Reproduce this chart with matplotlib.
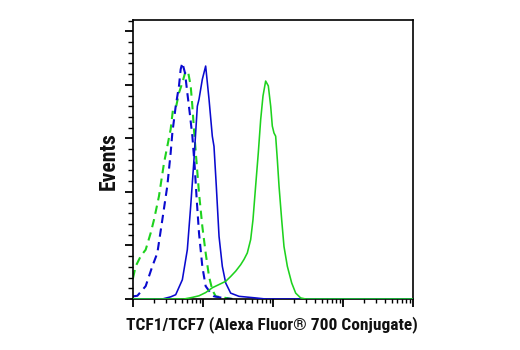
import numpy as np
import matplotlib
matplotlib.use("Agg")
import matplotlib.pyplot as plt
from matplotlib import font_manager as fm
from matplotlib.ticker import LogLocator, NullFormatter, MultipleLocator

# log10 fluorescence (decades above axis minimum) and event counts (arbitrary units)
blue_solid_x = [0.00, 0.419, 0.538, 0.610, 0.705, 0.776, 0.824, 0.871, 0.919, 0.943, 0.990, 1.038,
                1.086, 1.133, 1.157, 1.190, 1.229, 1.276, 1.324, 1.395, 1.514, 1.752, 1.895, 4.0]
blue_solid_y = [0.0, 0.0, 0.04, 0.08, 0.36, 0.92, 1.73, 2.60, 3.60, 3.73, 4.10, 4.35,
                3.73, 3.04, 2.85, 2.11, 1.17, 0.61, 0.30, 0.11, 0.05, 0.02, 0.0, 0.0]

blue_dash_x = [0.0, 0.062, 0.181, 0.276, 0.348, 0.419, 0.490, 0.538, 0.562, 0.610, 0.657, 0.681,
               0.705, 0.743, 0.776, 0.810, 0.848, 0.881, 0.910, 0.943, 0.990, 1.038, 1.110,
               1.157, 1.324, 1.419]
blue_dash_y = [0.05, 0.06, 0.24, 0.61, 0.86, 1.48, 2.11, 2.73, 3.10, 3.60, 3.98, 4.29,
               4.41, 4.22, 3.85, 3.48, 3.04, 2.48, 1.86, 1.23, 0.61, 0.24, 0.11,
               0.05, 0.01, 0.0]

green_dash_x = [0.0, 0.038, 0.110, 0.181, 0.252, 0.300, 0.371, 0.443, 0.490, 0.538, 0.571, 0.619,
                0.657, 0.705, 0.752, 0.790, 0.824, 0.848, 0.871, 0.905, 0.943, 0.990, 1.038,
                1.086, 1.133, 1.181, 1.324, 1.419]
green_dash_y = [0.39, 0.61, 0.80, 0.92, 1.23, 1.48, 1.92, 2.54, 2.85, 3.17, 3.54, 3.61,
                3.85, 4.04, 4.26, 4.22, 3.98, 3.60, 3.17, 2.60, 1.98, 1.36, 0.86,
                0.42, 0.17, 0.05, 0.02, 0.0]

green_solid_x = [0.0, 0.729, 0.848, 0.943, 1.038, 1.133, 1.229, 1.324, 1.395, 1.467, 1.538, 1.586,
                 1.633, 1.681, 1.714, 1.752, 1.790, 1.824, 1.857, 1.895, 1.933, 1.967, 1.990,
                 2.014, 2.038, 2.062, 2.086, 2.124, 2.157, 2.205, 2.267, 2.324, 2.395, 2.467, 4.0]
green_solid_y = [0.0, 0.0, 0.03, 0.06, 0.12, 0.21, 0.27, 0.33, 0.42, 0.52, 0.64, 0.74,
                 0.86, 1.11, 1.48, 2.11, 2.73, 3.35, 3.79, 4.07, 3.98, 3.60, 3.23,
                 3.10, 3.04, 2.60, 2.11, 1.48, 0.98, 0.61, 0.30, 0.11, 0.02, 0.0, 0.0]

xlabel = "TCF1/TCF7 (Alexa Fluor\u00ae 700 Conjugate)"
ylabel = "Events"

BLUE = "#0a0acf"
GREEN = "#1ed21e"

# pick a condensed sans if one is installed, else a narrow-ish regular sans
names = {f.name for f in fm.fontManager.ttflist}
cond = [f for f in fm.fontManager.ttflist
        if f.stretch in ("condensed", "semi-condensed", "extra-condensed") and f.weight in ("bold", 700)]
fam, stretch = None, "normal"
for cand in ["Liberation Sans Narrow", "Roboto Condensed", "Open Sans Condensed", "Noto Sans Condensed"]:
    if cand in names:
        fam = [cand, "DejaVu Sans"]
        break
if fam is None and cond:
    fam, stretch = [cond[0].name, "DejaVu Sans"], "condensed"
if fam is None:
    fam = ["Liberation Sans", "DejaVu Sans"]

fig = plt.figure(figsize=(5.2, 3.5), dpi=100)
ax = fig.add_axes([133/520, 1-299/350, 280/520, 279/350])

ax.plot(np.power(10.0, blue_solid_x), blue_solid_y, color=BLUE, lw=1.15, zorder=3)
ax.plot(np.power(10.0, green_solid_x), green_solid_y, color=GREEN, lw=1.15, zorder=4)
ax.plot(np.power(10.0, green_dash_x), green_dash_y, color=GREEN, lw=1.5,
        dashes=(4.0, 2.6), zorder=2)
ax.plot(np.power(10.0, blue_dash_x), blue_dash_y, color=BLUE, lw=1.5,
        dashes=(4.0, 2.6), zorder=2)

ax.set_xscale("log")
ax.set_xlim(1, 1e4)
ax.set_ylim(0, 5.21)

ax.xaxis.set_major_locator(LogLocator(base=10, numticks=10))
ax.xaxis.set_minor_locator(LogLocator(base=10, subs=np.arange(2, 10), numticks=20))
ax.xaxis.set_major_formatter(NullFormatter())
ax.xaxis.set_minor_formatter(NullFormatter())
ax.yaxis.set_major_locator(MultipleLocator(1))
ax.yaxis.set_minor_locator(MultipleLocator(0.2))
ax.yaxis.set_major_formatter(NullFormatter())

ax.tick_params(which="major", direction="out", length=6, width=1.3, color="black")
ax.tick_params(which="minor", direction="out", length=3.5, width=1.0, color="black")
ax.tick_params(axis="x", which="major", length=5.5)
ax.tick_params(axis="x", which="minor", length=3)
for s in ax.spines.values():
    s.set_linewidth(1.2)

xl = fig.text(272/520, 1-325/350, xlabel, family=fam, fontstretch=stretch, fontweight="bold",
              fontsize=11, ha="center", va="center", color="#111111")
yl = fig.text(109/520, 1-161/350, ylabel, family=fam, fontstretch=stretch, fontweight="bold",
              fontsize=11, ha="center", va="center", rotation=90, color="#111111")

# fit label sizes to the reference extents
fig.canvas.draw()
r = fig.canvas.get_renderer()
w = xl.get_window_extent(r).width
xl.set_fontsize(11 * 290.0 / w)
h = yl.get_window_extent(r).height
yl.set_fontsize(11 * 58.0 / h)

fig.savefig("out.png", dpi=100)
